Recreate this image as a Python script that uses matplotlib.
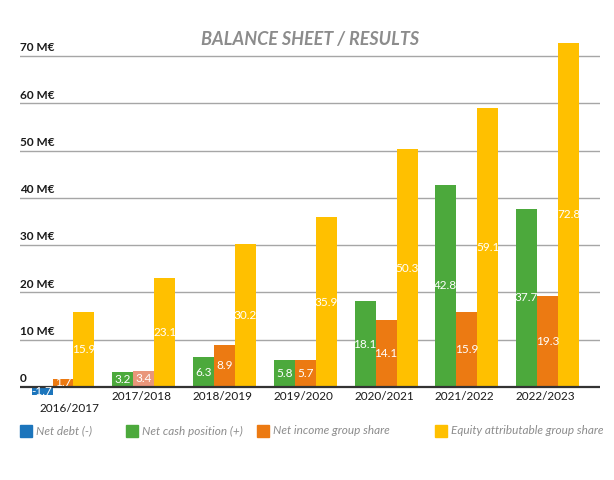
import matplotlib
matplotlib.use("Agg")
import matplotlib.pyplot as plt
from matplotlib.patches import Rectangle
import matplotlib.transforms as mtrans
import numpy as np

categories = ["2016/2017", "2017/2018", "2018/2019", "2019/2020", "2020/2021", "2021/2022", "2022/2023"]
net_position = [-1.7, 3.2, 6.3, 5.8, 18.1, 42.8, 37.7]   # negative = net debt, positive = net cash
net_income = [1.7, 3.4, 8.9, 5.7, 14.1, 15.9, 19.3]
equity = [15.9, 23.1, 30.2, 35.9, 50.3, 59.1, 72.8]
yticks = [0, 10, 20, 30, 40, 50, 60, 70]
legend_labels = ["Net debt (-)", "Net cash position (+)", "Net income group share", "Equity attributable group share"]

BLUE = "#1C75BC"
GREEN = "#4CA93C"
ORANGE = "#EC7A12"
SALMON = "#E9967A"
YELLOW = "#FFC000"

plt.rcParams['font.family'] = ['Lato', 'DejaVu Sans']

fig = plt.figure(figsize=(6.14, 4.8), dpi=100)
W, H = 614, 480
ax = fig.add_axes([20 / W, (H - 400) / H, 580 / W, 360 / H])

x = np.arange(len(categories))
bw = 0.26

pos_colors = [BLUE if v < 0 else GREEN for v in net_position]
inc_colors = [SALMON if i == 1 else ORANGE for i in range(len(net_income))]

for t in yticks[1:]:
    ax.axhline(t, color="#A6A6A6", lw=1.0, zorder=1)
ax.axhline(0, color="#333333", lw=1.6, zorder=4)

b1 = ax.bar(x - bw, net_position, bw, color=pos_colors, zorder=3)
b2 = ax.bar(x, net_income, bw, color=inc_colors, zorder=3)
b3 = ax.bar(x + bw, equity, bw, color=YELLOW, zorder=3)

for bars, vals in ((b1, net_position), (b2, net_income), (b3, equity)):
    for r, v in zip(bars, vals):
        ax.text(r.get_x() + r.get_width() / 2, v / 2, f"{v:.1f}",
                ha="center", va="center", color="white", fontsize=8.5, zorder=5)

ax.set_xlim(-0.5325, 6.65)
ax.set_ylim(-2.75, 73.4)
ax.axis("off")

# y tick labels sitting above gridlines
trans = mtrans.blended_transform_factory(ax.transAxes, ax.transData)
for t in yticks:
    lab = "0" if t == 0 else f"{t} M€"
    ax.text(0.0, t + 0.6, lab, transform=trans, ha="left", va="bottom",
            fontsize=8.5, fontweight="bold", color="#1A1A1A", zorder=6)

# category labels
for i, c in enumerate(categories):
    ypx = 409 if i == 0 else 396
    xpx = 63 + 80.75 * i + (6 if i == 0 else -2)
    fig.text(xpx / W, 1 - ypx / H, c, ha="center", va="center",
             fontsize=8.5, color="#1A1A1A")

# title
fig.text(310 / W, 1 - 40 / H, "BALANCE SHEET / RESULTS", ha="center", va="center",
         fontsize=13, fontweight="bold", fontstyle="italic", color="#8C8C8C")

# legend
leg_colors = [BLUE, GREEN, ORANGE, YELLOW]
leg_x = [20, 126, 257, 435]
for lx, col, lab in zip(leg_x, leg_colors, legend_labels):
    fig.patches.append(Rectangle((lx / W, 1 - 437 / H), 12 / W, 12 / H,
                                 transform=fig.transFigure, color=col))
    fig.text((lx + 16) / W, 1 - 431 / H, lab, ha="left", va="center",
             fontsize=8.5, fontstyle="italic", color="#8C8C8C")

fig.savefig("out.png", dpi=100)
